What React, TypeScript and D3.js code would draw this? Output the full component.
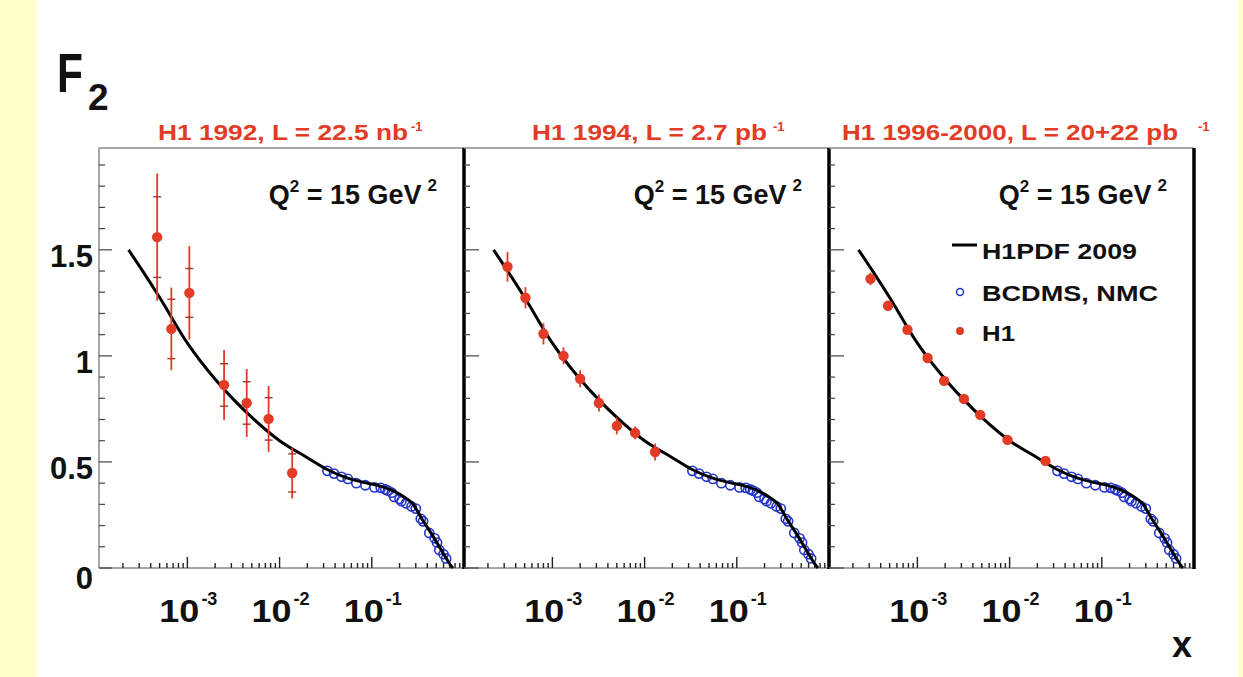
import React from 'react';
import * as d3 from 'd3';

// H1PDF 2009 curve at Q^2 = 15 GeV^2
const curveX = [2.3e-4, 3.16e-4, 5.0e-4, 1e-3, 2.0e-3, 3.16e-3, 5.0e-3, 1e-2, 2.0e-2, 3.16e-2, 5.0e-2, 7.9e-2, 0.126, 0.178, 0.224, 0.275, 0.355, 0.452, 0.581, 0.716, 0.76];
const curveF2 = [1.5, 1.41, 1.275, 1.06, 0.89, 0.795, 0.71, 0.6, 0.52, 0.468, 0.43, 0.405, 0.385, 0.36, 0.335, 0.305, 0.226, 0.156, 0.077, 0.014, 0];

// BCDMS, NMC (same in every panel)
const bcdmsX = [0.033, 0.039, 0.047, 0.055, 0.068, 0.085, 0.107, 0.125, 0.14, 0.15, 0.165, 0.175, 0.2, 0.21, 0.235, 0.27, 0.3, 0.34, 0.36, 0.42, 0.48, 0.51, 0.54, 0.6, 0.64];
const bcdmsF2 = [0.458, 0.445, 0.43, 0.42, 0.4, 0.39, 0.38, 0.378, 0.37, 0.365, 0.355, 0.335, 0.325, 0.315, 0.305, 0.29, 0.28, 0.232, 0.22, 0.165, 0.14, 0.12, 0.085, 0.065, 0.045];

// H1 data
const h1992X = [4.7e-4, 6.7e-4, 1.05e-3, 2.5e-3, 4.4e-3, 7.6e-3, 1.37e-2];
const h1992F2 = [1.56, 1.127, 1.297, 0.863, 0.778, 0.703, 0.448];
const h1992Tot = [0.3, 0.195, 0.22, 0.165, 0.16, 0.155, 0.12];
const h1992Stat = [0.19, 0.14, 0.115, 0.1, 0.1, 0.1, 0.09];

const h1994X = [3.26e-4, 5.1e-4, 8e-4, 1.32e-3, 2e-3, 3.2e-3, 5e-3, 7.9e-3, 1.3e-2];
const h1994F2 = [1.42, 1.274, 1.104, 1.0, 0.892, 0.778, 0.67, 0.637, 0.547];
const h1994Tot = [0.07, 0.05, 0.05, 0.04, 0.04, 0.04, 0.04, 0.03, 0.04];

const h1996X = [3.1e-4, 4.8e-4, 7.8e-4, 1.29e-3, 1.95e-3, 3.2e-3, 4.8e-3, 9.5e-3, 2.45e-2];
const h1996F2 = [1.363, 1.236, 1.123, 0.99, 0.882, 0.797, 0.722, 0.604, 0.505];
const h1996Tot = [0.03, 0.02, 0.02, 0.02, 0.02, 0.015, 0.015, 0.015, 0.015];

const titles = ['H1 1992, L = 22.5 nb', 'H1 1994, L = 2.7 pb', 'H1 1996-2000, L = 20+22 pb'];
const yTickLabels = ['0', '0.5', '1', '1.5'];
const xTickLabels = ['-3', '-2', '-1'];
const legendLabels = ['H1PDF 2009', 'BCDMS, NMC', 'H1'];

const RED = '#e23b26';
const BLUE = '#2436c8';
const FONT = '"Liberation Sans", Arial, Helvetica, sans-serif';

const W = 1243;
const H = 677;
const left0 = 99;
const panelW = 365;
const top = 148;
const bottom = 568;

// title placement (start x, stretched width, superscript x)
const titleX = [158, 532, 842];
const titleLen = [250, 235, 336];
const titleSupX = [411, 773, 1198];

const y = d3.scaleLinear().domain([0, 1.98]).range([bottom, top]);

const panels = [
  { x: h1992X, f2: h1992F2, tot: h1992Tot, stat: h1992Stat },
  { x: h1994X, f2: h1994F2, tot: h1994Tot, stat: null },
  { x: h1996X, f2: h1996F2, tot: h1996Tot, stat: null },
];

const xTicks: { v: number; major: boolean }[] = [];
for (let d = -4; d < 0; d++) {
  for (let m = 1; m <= 9; m++) {
    const v = m * Math.pow(10, d);
    if (v > 1.1e-4 && v < 1) xTicks.push({ v, major: m === 1 });
  }
}
const yTicks = d3.range(0, 20).map(i => ({ v: i / 10, major: i % 5 === 0 }));

const Panel = ({ i }: { i: number }) => {
  const p = panels[i];
  const l = left0 + i * panelW;
  const r = l + panelW;
  const x = d3.scaleLog().domain([1.1e-4, 1]).range([l, r]);
  const line = d3.line<number>()
    .x((_, k) => x(curveX[k]))
    .y(d => y(d))
    .curve(d3.curveMonotoneX);
  const tickLen = i === 0 ? [13, 6] : [15, 6];
  return (
    <g>
      {/* frame */}
      <line x1={l} x2={r} y1={top} y2={top} stroke="#8a8a8a" strokeWidth={1.5} />
      <line x1={l} x2={r} y1={bottom} y2={bottom} stroke="#8a8a8a" strokeWidth={1.5} />
      {i === 0
        ? <line x1={l} x2={l} y1={top} y2={bottom} stroke="#8a8a8a" strokeWidth={1.5} />
        : null}
      <line x1={r} x2={r} y1={top} y2={bottom + 1} stroke="#000" strokeWidth={3.5} />

      {/* y ticks */}
      {yTicks.map(t => (
        <line key={t.v} x1={l} x2={l + (t.major ? tickLen[0] : tickLen[1])} y1={y(t.v)} y2={y(t.v)}
          stroke="#444" strokeWidth={1.2} />
      ))}
      {/* x ticks */}
      {xTicks.map(t => (
        <line key={t.v} x1={x(t.v)} x2={x(t.v)} y1={bottom} y2={bottom - (t.major ? 11 : 5)}
          stroke="#222" strokeWidth={1.4} />
      ))}
      {xTickLabels.map((s, k) => {
        const tx = x(Math.pow(10, -3 + k));
        return (
          <g key={s} fontFamily={FONT} fontWeight="bold" fill="#111">
            <text x={tx - 28} y={622} fontSize={31} textLength={40} lengthAdjust="spacingAndGlyphs">10</text>
            <text x={tx + 14} y={605} fontSize={18}>{s}</text>
          </g>
        );
      })}

      {/* title */}
      <g fontFamily={FONT} fontWeight="bold" fill={RED}>
        <text x={titleX[i]} y={140} fontSize={22} textLength={titleLen[i]} lengthAdjust="spacingAndGlyphs">
          {titles[i]}
        </text>
        <text x={titleSupX[i]} y={131} fontSize={13}>-1</text>
      </g>

      {/* Q^2 label */}
      <text x={r - 27} y={204} textAnchor="end" fontFamily={FONT} fontWeight="bold" fontSize={27} fill="#111">
        Q<tspan dy={-12} fontSize={17}>2</tspan>
        <tspan dy={12}> = 15 GeV</tspan>
        <tspan dx={6} dy={-13} fontSize={17}>2</tspan>
      </text>

      {/* BCDMS, NMC */}
      {bcdmsX.map((v, k) => (
        <circle key={k} cx={x(v)} cy={y(bcdmsF2[k])} r={4.6} fill="none" stroke={BLUE} strokeWidth={1.6} />
      ))}

      {/* theory */}
      <path d={line(curveF2) || ''} fill="none" stroke="#000" strokeWidth={3} />

      {/* H1 points */}
      {p.x.map((v, k) => {
        const cx = x(v);
        const f = p.f2[k];
        return (
          <g key={k}>
            <line x1={cx} x2={cx} y1={y(f + p.tot[k])} y2={y(f - p.tot[k])} stroke={RED} strokeWidth={1.8} />
            {p.stat ? (
              <g stroke="#a8382a" strokeWidth={1.4}>
                <line x1={cx - 4} x2={cx + 4} y1={y(f + p.stat[k])} y2={y(f + p.stat[k])} />
                <line x1={cx - 4} x2={cx + 4} y1={y(f - p.stat[k])} y2={y(f - p.stat[k])} />
              </g>
            ) : null}
            <circle cx={cx} cy={y(f)} r={5.2} fill={RED} />
          </g>
        );
      })}
    </g>
  );
};

export default function App() {
  const l3 = left0 + 2 * panelW;
  return (
    <svg width={W} height={H} style={{ position: 'absolute', left: 0, top: 0, display: 'block' }}>
      <rect x={0} y={0} width={W} height={H} fill="#ffffcc" />
      <rect x={37} y={0} width={1201} height={H} fill="#ffffff" />

      {/* F2 */}
      <text x={57} y={92} fontFamily={FONT} fontWeight="bold" fontSize={55} fill="#111"
        textLength={26} lengthAdjust="spacingAndGlyphs">F</text>
      <text x={88} y={110} fontFamily={FONT} fontWeight="bold" fontSize={37} fill="#111">2</text>

      {/* y labels */}
      {yTickLabels.map((s, k) => (
        <text key={s} x={93} y={y(k * 0.5) + (k === 0 ? 21 : 17)} textAnchor="end" fontFamily={FONT}
          fontWeight="bold" fontSize={31} fill="#111">{s}</text>
      ))}

      {panels.map((_, i) => <Panel key={i} i={i} />)}

      {/* legend */}
      <g fontFamily={FONT} fontWeight="bold" fontSize={22} fill="#111">
        <line x1={l3 + 123} x2={l3 + 148} y1={245} y2={245} stroke="#000" strokeWidth={3} />
        <text x={l3 + 153} y={259} textLength={155} lengthAdjust="spacingAndGlyphs">{legendLabels[0]}</text>
        <circle cx={l3 + 131} cy={292} r={3.5} fill="none" stroke={BLUE} strokeWidth={1.5} />
        <text x={l3 + 153} y={301} textLength={176} lengthAdjust="spacingAndGlyphs">{legendLabels[1]}</text>
        <circle cx={l3 + 131} cy={331} r={4} fill={RED} />
        <text x={l3 + 153} y={341} textLength={33} lengthAdjust="spacingAndGlyphs">{legendLabels[2]}</text>
      </g>

      {/* x label */}
      <text x={1192} y={657} textAnchor="end" fontFamily={FONT} fontWeight="bold" fontSize={36} fill="#111">x</text>
    </svg>
  );
}
